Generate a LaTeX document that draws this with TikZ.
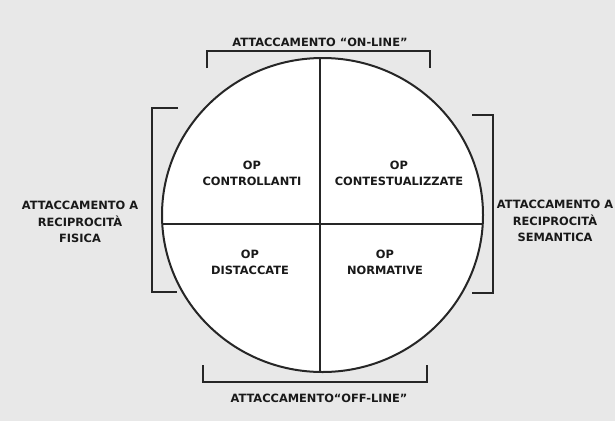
\documentclass[tikz,border=0pt]{standalone}
\usepackage{fontspec}
\setmainfont{DejaVu Sans}
\begin{document}
\begin{tikzpicture}[x=1pt,y=-1pt,
  lbl/.style={font=\bfseries\fontsize{11.4}{16.2}\selectfont, align=center, inner sep=0pt, text=black!90},
  brk/.style={line width=1.8pt, black!85, line cap=butt, line join=miter},
  ring/.style={line width=2pt, black!85},
  crossline/.style={line width=1.5pt, black!85}]
  \fill[black!9] (0,0) rectangle (615,421);
  \useasboundingbox (0,0) rectangle (615,421);
  % circle
  \fill[white] (322.5,215) ellipse [x radius=160.5, y radius=157];
  \begin{scope}
    \clip (322.5,215) ellipse [x radius=160.5, y radius=157];
    \draw[crossline] (320,40) -- (320,390);
    \draw[crossline] (150,224) -- (500,224);
  \end{scope}
  \draw[ring] (322.5,215) ellipse [x radius=160.5, y radius=157];
  % brackets
  \draw[brk] (207,68) -- (207,51) -- (430,51) -- (430,68);
  \draw[brk] (203,365) -- (203,382) -- (427,382) -- (427,365);
  \draw[brk] (178,108) -- (152,108) -- (152,292) -- (177,292);
  \draw[brk] (472,115) -- (493,115) -- (493,293) -- (472,293);
  % labels
  \node[lbl] (on) at (320,42) {ATTACCAMENTO “ON-LINE”};
  \node[lbl] (off) at (319,398) {ATTACCAMENTO“OFF-LINE”};
  \node[lbl] (fis) at (80,222) {ATTACCAMENTO A\\RECIPROCITÀ\\FISICA};
  \node[lbl] (sem) at (555,221) {ATTACCAMENTO A\\RECIPROCITÀ\\SEMANTICA};
  \node[lbl] (q1) at (252,173) {OP\\CONTROLLANTI};
  \node[lbl] (q2) at (399,173) {OP\\CONTESTUALIZZATE};
  \node[lbl] (q3) at (250,262) {OP\\DISTACCATE};
  \node[lbl] (q4) at (385,262) {OP\\NORMATIVE};
\end{tikzpicture}
\end{document}
